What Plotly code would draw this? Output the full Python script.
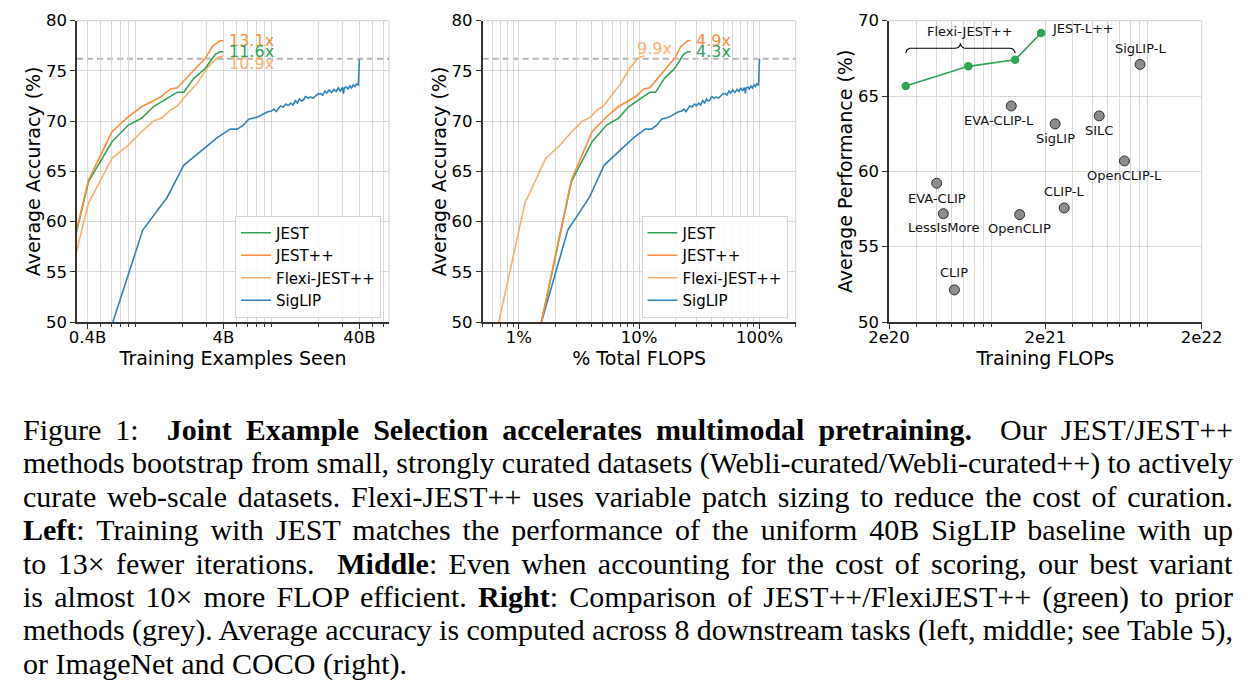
import numpy as np
import plotly.graph_objects as go

# ---------------- data ----------------
# Left panel: training examples seen (billions) vs average accuracy (%)
jest_examples = [0.23, 0.407, 0.606, 0.8, 1.0, 1.22, 1.54, 1.83, 2.04, 2.42, 2.95, 3.49, 3.76, 4.0]
jest_acc = [50.0, 63.97, 67.95, 69.61, 70.28, 71.43, 72.27, 72.87, 72.87, 74.26, 75.26, 76.65, 76.91, 76.91]

jestpp_examples = [0.23, 0.407, 0.606, 0.8, 1.0, 1.39, 1.63, 1.83, 2.56, 2.95, 3.3, 3.76, 4.0]
jestpp_acc = [50.0, 64.13, 68.94, 70.44, 71.43, 72.43, 73.2, 73.33, 75.42, 76.25, 77.41, 78.0, 78.0]

flexi_examples = [0.248, 0.406, 0.606, 0.8, 1.0, 1.22, 1.41, 1.63, 1.83, 2.04, 2.56, 3.03, 3.6, 4.0]
flexi_acc = [50.0, 61.81, 66.29, 67.62, 68.94, 70.0, 70.34, 71.11, 71.5, 72.27, 73.76, 75.26, 76.32, 76.51]

siglip_examples = [0.52, 0.615, 1.02, 1.25, 1.54, 2.04, 2.45, 2.95, 3.6, 4.5, 5.05, 5.6, 6.14, 7.08,
                   8.4, 9.0, 9.4, 9.8, 10.2, 10.5, 11.0, 11.5, 12.0, 12.5, 13.0, 13.5, 14.0, 14.5,
                   15.0, 15.5, 16.0, 16.8, 17.5, 18.3, 19.0, 19.8, 20.7, 21.5, 22.3, 23.0, 24.0,
                   25.0, 26.0, 27.0, 28.0, 29.0, 30.0, 30.5, 31.0, 32.0, 33.0, 34.0, 35.0, 36.0,
                   37.0, 38.0, 39.3, 40.0]
siglip_acc = [46.8, 50.0, 59.15, 60.8, 62.4, 65.6, 66.5, 67.4, 68.35, 69.2, 69.2, 69.6, 70.2, 70.4,
              70.9, 71.0, 71.2, 70.95, 71.3, 71.5, 71.4, 71.7, 71.55, 71.8, 71.6, 72.05, 71.8, 72.2,
              72.0, 72.1, 72.45, 72.3, 72.4, 72.3, 72.5, 72.7, 72.75, 72.6, 73.0, 72.8, 73.1,
              72.85, 73.15, 72.95, 73.3, 73.0, 73.35, 72.75, 73.3, 73.4, 73.2, 73.5, 73.3, 73.6,
              73.45, 73.7, 73.6, 76.2]

# Middle panel: % of total FLOPs
jest_flops_pct = [1.54, 2.73, 4.06, 5.36, 6.7, 8.17, 10.3, 12.26, 13.67, 16.21, 19.77, 23.38, 25.19, 26.8]
jestpp_flops_pct = [1.54, 2.73, 4.06, 5.36, 6.7, 9.31, 10.92, 12.26, 17.15, 19.77, 22.11, 25.19, 26.8]
flexi_flops_pct = [0.68, 1.12, 1.67, 2.2, 2.75, 3.36, 3.88, 4.48, 5.03, 5.61, 7.04, 8.33, 9.9, 11.0]
siglip_flops_pct = [1.3, 1.54, 2.55, 3.13, 3.85, 5.1, 6.13, 7.38, 9.0, 11.25, 12.63, 14.0, 15.35, 17.7,
                    21.0, 22.5, 23.5, 24.5, 25.5, 26.25, 27.5, 28.75, 30.0, 31.25, 32.5, 33.75, 35.0, 36.25,
                    37.5, 38.75, 40.0, 42.0, 43.75, 45.75, 47.5, 49.5, 51.75, 53.75, 55.75, 57.5, 60.0,
                    62.5, 65.0, 67.5, 70.0, 72.5, 75.0, 76.25, 77.5, 80.0, 82.5, 85.0, 87.5, 90.0,
                    92.5, 95.0, 98.25, 100.0]

siglip_baseline = 76.2
left_speedups = ["13.1x", "11.6x", "10.9x"]      # JEST++, JEST, Flexi-JEST++
mid_speedups = ["4.9x", "4.3x", "9.9x"]          # JEST++, JEST, Flexi-JEST++

# Right panel: training FLOPs vs average performance (%)
ours_flops = [2.56e20, 6.43e20, 1.28e21, 1.88e21]
ours_perf = [65.67, 66.97, 67.41, 69.18]
prior_names = ["SigLIP-L", "EVA-CLIP-L", "SigLIP", "SILC", "OpenCLIP-L",
               "EVA-CLIP", "LessIsMore", "OpenCLIP", "CLIP-L", "CLIP"]
prior_flops = [8.07e21, 1.21e21, 2.31e21, 4.42e21, 6.41e21,
               4.04e20, 4.45e20, 1.37e21, 2.64e21, 5.24e20]
prior_perf = [67.1, 64.34, 63.15, 63.68, 60.69, 59.21, 57.19, 57.13, 57.57, 52.13]

caption_lines = [
    "Figure 1:  <b>Joint Example Selection accelerates multimodal pretraining.</b>  Our JEST/JEST++",
    "methods bootstrap from small, strongly curated datasets (Webli-curated/Webli-curated++) to actively",
    "curate web-scale datasets. Flexi-JEST++ uses variable patch sizing to reduce the cost of curation.",
    "<b>Left</b>: Training with JEST matches the performance of the uniform 40B SigLIP baseline with up",
    "to 13\u00d7 fewer iterations.  <b>Middle</b>: Even when accounting for the cost of scoring, our best variant",
    "is almost 10\u00d7 more FLOP efficient. <b>Right</b>: Comparison of JEST++/FlexiJEST++ (green) to prior",
    "methods (grey). Average accuracy is computed across 8 downstream tasks (left, middle; see Table 5),",
    "or ImageNet and COCO (right).",
]

# ---------------- style ----------------
C_JEST = "#31a354"
C_JESTPP = "#fd8d3c"
C_FLEXI = "#fdae6b"
C_SIGLIP = "#3182bd"
GRID = "#d9d9d9"
SPINE = "#333333"
FONT = "DejaVu Sans"
W, H = 1252, 687
CAPTION_RIGHT = 1233  # px, right edge of justified caption lines

fig = go.Figure()

def px_to_paper_x(px):
    return px / W

def px_to_paper_y(py):
    return 1 - py / H

top, bottom = px_to_paper_y(20.7), px_to_paper_y(322)
doms = [(px_to_paper_x(77), px_to_paper_x(389)),
        (px_to_paper_x(482.7), px_to_paper_x(795.7)),
        (px_to_paper_x(889), px_to_paper_x(1201.7))]

series = [
    ("JEST", C_JEST, jest_examples, jest_acc, jest_flops_pct),
    ("JEST++", C_JESTPP, jestpp_examples, jestpp_acc, jestpp_flops_pct),
    ("Flexi-JEST++", C_FLEXI, flexi_examples, flexi_acc, flexi_flops_pct),
    ("SigLIP", C_SIGLIP, siglip_examples, siglip_acc, siglip_flops_pct),
]
draw_order = [3, 2, 0, 1]
for panel, (xa, ya, leg) in enumerate([("x", "y", "legend"), ("x2", "y2", "legend2")]):
    for idx in draw_order:
        name, col, ex, acc, pct = series[idx]
        fig.add_trace(go.Scatter(
            x=ex if panel == 0 else pct, y=acc, mode="lines", name=name,
            line=dict(color=col, width=1.6), xaxis=xa, yaxis=ya, legend=leg,
            legendgroup=f"{name}{panel}", legendrank=idx + 1, hoverinfo="skip"))

# right panel: brace over Flexi-JEST++ points (spanning first to third point)
lx0, lx1 = np.log10(ours_flops[0]), np.log10(ours_flops[2])
lm = (lx0 + lx1) / 2
r = 0.032
y_tip, y_bar, y_peak = 67.84, 68.17, 68.5
t1 = np.linspace(np.pi, np.pi / 2, 12)
t2 = np.linspace(-np.pi / 2, 0, 12)
t3 = np.linspace(np.pi, 1.5 * np.pi, 12)
t4 = np.linspace(np.pi / 2, 0, 12)
bx = np.concatenate([lx0 + r + r * np.cos(t1), lm - r + r * np.cos(t2),
                     lm + r + r * np.cos(t3), lx1 - r + r * np.cos(t4)])
by = np.concatenate([y_tip + (y_bar - y_tip) * np.sin(t1), y_peak + (y_peak - y_bar) * np.sin(t2),
                     y_peak + (y_peak - y_bar) * np.sin(t3), y_tip + (y_bar - y_tip) * np.sin(t4)])
fig.add_trace(go.Scatter(x=10 ** bx, y=by, mode="lines", line=dict(color="black", width=1.1),
                         xaxis="x3", yaxis="y3", showlegend=False, hoverinfo="skip"))
fig.add_trace(go.Scatter(x=ours_flops, y=ours_perf, mode="lines+markers",
                         line=dict(color=C_JEST, width=1.6),
                         marker=dict(size=8.5, color=C_JEST),
                         xaxis="x3", yaxis="y3", showlegend=False, hoverinfo="skip"))
fig.add_trace(go.Scatter(x=prior_flops, y=prior_perf, mode="markers",
                         marker=dict(size=10, color="#8c8c8c", line=dict(color="#303030", width=1)),
                         xaxis="x3", yaxis="y3", showlegend=False, hoverinfo="skip"))

# ---------------- axes ----------------
def minor_vals(lo_exp, hi_exp, majors, lo, hi):
    vals = []
    for e in range(lo_exp, hi_exp + 1):
        for k in range(2, 10):
            v = k * 10.0 ** e
            if lo <= v <= hi and not any(abs(v - m) / m < 1e-6 for m in majors):
                vals.append(v)
    return vals

tick_font = dict(family=FONT, size=16.5, color="black")
title_font = dict(family=FONT, size=19, color="black")

x_specs = [
    dict(rng=(0.335, 66), ticks=[0.4, 4, 40], text=["0.4B", "4B", "40B"], title="Training Examples Seen",
         minor=minor_vals(-1, 1, [0.4, 4, 40], 0.335, 66)),
    dict(rng=(0.5, 200), ticks=[1, 10, 100], text=["1%", "10%", "100%"], title="% Total FLOPS",
         minor=minor_vals(-1, 2, [1, 10, 100], 0.5, 200)),
    dict(rng=(2e20, 2e22), ticks=[2e20, 2e21, 2e22], text=["2e20", "2e21", "2e22"], title="Training FLOPs",
         minor=minor_vals(20, 21, [2e20, 2e21, 2e22], 2e20, 2e22)),
]
y_specs = [
    dict(rng=(50, 80), ticks=list(range(50, 81, 5)), title="Average Accuracy (%)"),
    dict(rng=(50, 80), ticks=list(range(50, 81, 5)), title="Average Accuracy (%)"),
    dict(rng=(50, 70), ticks=list(range(50, 71, 5)), title="Average Performance (%)"),
]
for i in range(3):
    sx, sy = x_specs[i], y_specs[i]
    suffix = "" if i == 0 else str(i + 1)
    fig.update_layout(**{
        f"xaxis{suffix}": dict(
            type="log", domain=list(doms[i]), anchor=f"y{suffix}",
            range=[np.log10(sx["rng"][0]), np.log10(sx["rng"][1])],
            tickvals=sx["ticks"], ticktext=sx["text"], tickfont=tick_font,
            ticks="outside", ticklen=5, tickwidth=1.2, tickcolor=SPINE,
            ticklabelstandoff=-6,
            showgrid=True, gridcolor=GRID, gridwidth=1,
            showline=True, linecolor=SPINE, linewidth=1.6, zeroline=False,
            minor=dict(tickvals=sx["minor"], ticks="outside", ticklen=3, tickcolor=SPINE,
                       showgrid=True, gridcolor=GRID, gridwidth=1),
            title=dict(text=sx["title"], font=title_font, standoff=2),
            automargin=False, fixedrange=True),
        f"yaxis{suffix}": dict(
            domain=[bottom, top], anchor=f"x{suffix}", range=list(sy["rng"]),
            tickvals=sy["ticks"], tickfont=tick_font,
            ticks="outside", ticklen=5, tickwidth=1.2, tickcolor=SPINE,
            showgrid=True, gridcolor=GRID, gridwidth=1,
            showline=True, linecolor=SPINE, linewidth=1.6, zeroline=False,
            title=dict(text=sy["title"], font=title_font, standoff=0),
            automargin=False, fixedrange=True),
    })

shapes = []
for i in range(3):
    suffix = "" if i == 0 else str(i + 1)
    shapes.append(dict(type="line", xref=f"x{suffix} domain", yref=f"y{suffix} domain",
                       x0=1, x1=1, y0=0, y1=1, line=dict(color=GRID, width=1.2), layer="below"))
    shapes.append(dict(type="line", xref=f"x{suffix} domain", yref=f"y{suffix} domain",
                       x0=0, x1=1, y0=1, y1=1, line=dict(color=GRID, width=1.2), layer="below"))
for suffix in ["", "2"]:
    shapes.append(dict(type="line", xref=f"x{suffix} domain", yref=f"y{suffix}",
                       x0=0, x1=1, y0=siglip_baseline, y1=siglip_baseline,
                       line=dict(color="#b4b4b4", width=2, dash="6px,4px"), layer="below"))

# ---------------- annotations ----------------
ann = []
lab_font = dict(family=FONT, size=16)
left_ends = [(jestpp_examples[-1], jestpp_acc[-1], C_JESTPP, 0),
             (jest_examples[-1], jest_acc[-1], C_JEST, 0),
             (flexi_examples[-1], flexi_acc[-1], C_FLEXI, -8)]
for (xv, yv, col, ysh), txt in zip(left_ends, left_speedups):
    ann.append(dict(x=np.log10(xv), y=yv, xref="x", yref="y", text=txt, showarrow=False,
                    xanchor="left", yanchor="middle", xshift=4, yshift=ysh,
                    font=dict(lab_font, color=col)))
mid_ends = [(jestpp_flops_pct[-1], jestpp_acc[-1], C_JESTPP, 3, 0),
            (jest_flops_pct[-1], jest_acc[-1], C_JEST, 3, 0),
            (flexi_flops_pct[-1], flexi_acc[-1], C_FLEXI, -9, 7)]
for (xv, yv, col, xsh, ysh), txt in zip(mid_ends, mid_speedups):
    ann.append(dict(x=np.log10(xv), y=yv, xref="x2", yref="y2", text=txt, showarrow=False,
                    xanchor="left", yanchor="middle", xshift=xsh, yshift=ysh,
                    font=dict(lab_font, color=col)))

name_font = dict(family=FONT, size=13, color="#111111")
label_offsets = {"SigLIP-L": (0, 16), "EVA-CLIP-L": (-12, -15), "SigLIP": (0, -15),
                 "SILC": (0, -15), "OpenCLIP-L": (0, -15), "EVA-CLIP": (0, -15),
                 "LessIsMore": (0, -14), "OpenCLIP": (0, -14), "CLIP-L": (0, 16),
                 "CLIP": (0, 17)}
for nm, xv, yv in zip(prior_names, prior_flops, prior_perf):
    xs, ys = label_offsets[nm]
    ann.append(dict(x=np.log10(xv), y=yv, xref="x3", yref="y3", text=nm, showarrow=False,
                    xanchor="center", yanchor="middle", xshift=xs, yshift=ys, font=name_font))
ann.append(dict(x=np.log10(ours_flops[-1]), y=ours_perf[-1], xref="x3", yref="y3", text="JEST-L++",
                showarrow=False, xanchor="left", yanchor="middle", xshift=9, yshift=5, font=name_font))
ann.append(dict(x=lm, y=y_peak, xref="x3", yref="y3", text="Flexi-JEST++",
                showarrow=False, xanchor="center", yanchor="middle", xshift=10, yshift=12, font=name_font))

cap_y0, cap_dy = 429.5, 33.45
for k, line in enumerate(caption_lines):
    ann.append(dict(x=px_to_paper_x(21), y=px_to_paper_y(cap_y0 + k * cap_dy), xref="paper", yref="paper",
                    text=line, showarrow=False, xanchor="left", yanchor="middle", align="left",
                    font=dict(family="Liberation Serif", size=30, color="black")))

legend_common = dict(bgcolor="rgba(255,255,255,0.85)", bordercolor="#d4d4d4", borderwidth=1,
                     font=dict(family=FONT, size=15, color="black"), tracegroupgap=3,
                     xanchor="right", yanchor="bottom", y=px_to_paper_y(317.5), traceorder="normal",
                     itemwidth=30)

fig.update_layout(
    width=W, height=H, margin=dict(l=0, r=0, t=0, b=0),
    paper_bgcolor="white", plot_bgcolor="white",
    font=dict(family=FONT, color="black"),
    shapes=shapes, annotations=ann, showlegend=True,
    legend=dict(legend_common, x=px_to_paper_x(381)),
    legend2=dict(legend_common, x=px_to_paper_x(787.5)),
)

# remove the page margin and justify all caption lines except the last one
post_js = """
document.body.style.margin = '0';
var gd = document.getElementById('{plot_id}');
var texts = gd.querySelectorAll('g.annotation text.annotation-text');
var lastLine = %s;
texts.forEach(function(t) {
  if ((t.style.fontFamily || '').indexOf('Liberation Serif') < 0) return;
  var s = t.textContent;
  if (s === lastLine) return;
  var n = (s.match(/ /g) || []).length;
  if (!n) return;
  var rc = t.getBoundingClientRect();
  var extra = %d - rc.right;
  t.style.wordSpacing = (extra / n) + 'px';
});
""" % ('"' + caption_lines[-1] + '"', CAPTION_RIGHT)

fig.write_html("out.html", post_script=post_js, config={"displayModeBar": False})
